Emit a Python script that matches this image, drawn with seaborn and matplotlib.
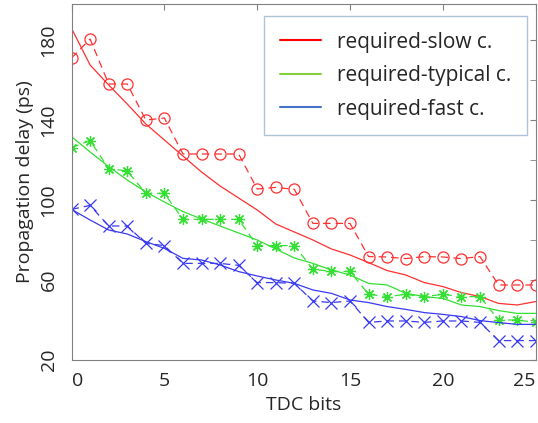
import pandas as pd
import numpy as np
import seaborn as sns
import matplotlib.pyplot as plt
from matplotlib.ticker import MultipleLocator

sns.set_style("white")
plt.rcParams['font.family'] = ['Open Sans', 'DejaVu Sans']

bits = list(range(26))

# measured (dashed with markers)
slow_meas = [171, 180.5, 158, 158, 140, 141, 123, 123, 123, 123, 105.5, 106.3, 105.3,
             88.3, 88.3, 88.3, 71.7, 71.5, 70.7, 71.7, 71.5, 70.7, 71.7, 57.5, 57.5, 57.5]
typ_meas = [126.2, 129.7, 115.7, 114.5, 103.3, 103.3, 90.3, 90.3, 90.3, 90.3, 77.2, 77.2, 77.2,
            65.3, 64.3, 64.3, 52.8, 51.7, 52.8, 51.7, 52.8, 51.7, 51.7, 40, 40, 38.8]
fast_meas = [95.3, 97.3, 87, 87, 78.3, 77.2, 68.3, 68.3, 68.3, 67.3, 58.7, 58.7, 58.3,
             49.5, 48.7, 49.5, 38.8, 39.5, 39.5, 38.8, 39.5, 39.5, 38.8, 29.7, 29.7, 29.7]

# required (solid)
slow_req = [185.8, 167.5, 157.5, 148, 138, 130, 122, 114, 107, 101, 95, 88, 84, 80,
            75.5, 72.5, 68.7, 64.7, 62.5, 58.7, 56.7, 53.7, 51.7, 48.3, 47.5, 49.2]
typ_req = [131.7, 124, 116.7, 110, 104, 99, 94.2, 90.5, 87, 83.5, 80, 75.5, 71, 68.3,
           65, 62.5, 58.3, 57.5, 53.3, 51.7, 50.8, 47.5, 46.7, 44.7, 43.3, 43.3]
fast_req = [95.3, 90, 85, 83, 79.2, 75.8, 70.8, 70, 67.5, 64.2, 62, 60, 58.3, 55,
            53.3, 50, 48.7, 46.7, 45.3, 43.7, 42.8, 41.7, 39.7, 38.7, 37.8, 37.8]

labels = ["required-slow c.", "required-typical c.", "required-fast c."]
colors = ["#ff3030", "#33e033", "#3a3af0"]
legend_colors = ["#ff0000", "#80d040", "#4472c4"]
markers = ["o", (8, 2, 0), "x"]

fig = plt.figure(figsize=(5.38, 4.23), dpi=100)
ax = fig.add_axes([0.133, 0.149, 0.8627, 0.8415])

for meas, req, c, m in zip([slow_meas, typ_meas, fast_meas],
                           [slow_req, typ_req, fast_req], colors, markers):
    sns.lineplot(x=bits, y=req, color=c, linewidth=0.9, ax=ax)
    sns.lineplot(x=bits, y=meas, color=c, linewidth=0.9, linestyle=(0, (6, 4)),
                 marker=m, markerfacecolor="none", markeredgecolor=c,
                 markersize=8, markeredgewidth=0.9, ax=ax)

ax.set_xlim(0, 25)
ax.set_ylim(20, 198)
ax.set_xticks([0, 5, 10, 15, 20, 25])
ax.set_yticks([20, 60, 100, 140, 180])
ax.yaxis.set_minor_locator(MultipleLocator(20))
ax.tick_params(which="both", direction="in", top=True, right=True, length=4,
               color="#808080", labelsize=14)
ax.tick_params(axis="x", pad=9)
ax.tick_params(axis="y", labelrotation=90, pad=10)
for lbl in ax.get_yticklabels():
    lbl.set_va("center")
xl = ax.get_xticklabels()
xl[0].set_ha("left")
xl[-1].set_ha("right")
for s in ax.spines.values():
    s.set_color("#808080")
ax.set_xlabel("TDC bits", fontsize=14, labelpad=4)
ax.set_ylabel("Propagation delay (ps)", fontsize=14, labelpad=4)

handles = [plt.Line2D([], [], color=c, linewidth=1.5) for c in legend_colors]
leg = ax.legend(handles, labels, loc="upper right", bbox_to_anchor=(0.981, 0.966),
                fontsize=15, frameon=True, fancybox=False, edgecolor="#9db3cf",
                handlelength=2.0, labelspacing=0.6, borderpad=0.75, handletextpad=0.75,
                borderaxespad=0)
leg.get_frame().set_linewidth(1.0)

plt.savefig("out.png", dpi=100)
